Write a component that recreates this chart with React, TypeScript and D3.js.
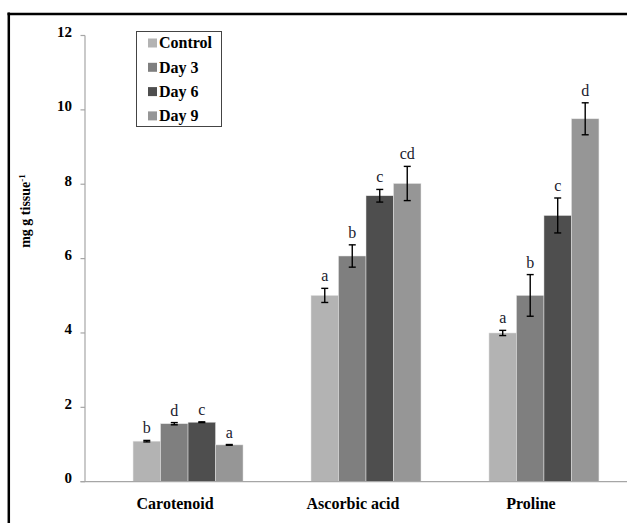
import React from "react";
import * as d3 from "d3";

const categories = ["Carotenoid", "Ascorbic acid", "Proline"];
const seriesNames = ["Control", "Day 3", "Day 6", "Day 9"];
const seriesColors = ["#b3b3b3", "#7f7f7f", "#4e4e4e", "#969696"];
const control = [1.09, 5.01, 4.0];
const day3 = [1.56, 6.07, 5.01];
const day6 = [1.6, 7.69, 7.16];
const day9 = [0.99, 8.02, 9.76];
const controlErr = [0.02, 0.19, 0.07];
const day3Err = [0.03, 0.3, 0.56];
const day6Err = [0.01, 0.17, 0.47];
const day9Err = [0.01, 0.46, 0.43];
const controlLbl = ["b", "a", "a"];
const day3Lbl = ["d", "b", "b"];
const day6Lbl = ["c", "c", "c"];
const day9Lbl = ["a", "cd", "d"];
const yTicks = [0, 2, 4, 6, 8, 10, 12];

const values = [control, day3, day6, day9];
const errs = [controlErr, day3Err, day6Err, day9Err];
const lbls = [controlLbl, day3Lbl, day6Lbl, day9Lbl];

const FONT = "'Liberation Serif', 'Times New Roman', serif";

export default function App() {
  const axisX = 85;
  const y = d3.scaleLinear().domain([0, 12]).range([481.7, 35.5]);
  const x0 = d3
    .scaleBand<string>()
    .domain(categories)
    .range([axisX, 647])
    .paddingInner(0.382)
    .paddingOuter(0.27);
  const x1 = d3
    .scaleBand<string>()
    .domain(seriesNames)
    .range([0, x0.bandwidth()])
    .padding(0);

  return (
    <svg
      width={627}
      height={523}
      style={{ position: "absolute", left: 0, top: 0, background: "#fff" }}
      fontFamily={FONT}
    >
      {/* outer border */}
      <line x1={8.8} y1={12.5} x2={8.8} y2={523} stroke="#000" strokeWidth={2.5} />
      <line x1={7.5} y1={14} x2={627} y2={14} stroke="#000" strokeWidth={2.5} />

      {/* bars */}
      {categories.map((c, ci) => (
        <g key={c} transform={`translate(${x0(c)},0)`}>
          {seriesNames.map((s, si) => {
            const v = values[si][ci];
            const e = errs[si][ci];
            const bx = x1(s)!;
            const bw = x1.bandwidth();
            const cx = bx + bw / 2;
            return (
              <g key={s}>
                <rect
                  x={bx}
                  y={y(v)}
                  width={bw}
                  height={y(0) - y(v)}
                  fill={seriesColors[si]}
                  stroke="#e6e6e6"
                  strokeWidth={0.5}
                />
                <line x1={cx} x2={cx} y1={y(v + e)} y2={y(v - e)} stroke="#000" strokeWidth={1.4} />
                <line x1={cx - 3.5} x2={cx + 3.5} y1={y(v + e)} y2={y(v + e)} stroke="#000" strokeWidth={1.4} />
                <line x1={cx - 3.5} x2={cx + 3.5} y1={y(v - e)} y2={y(v - e)} stroke="#000" strokeWidth={1.4} />
                <text
                  x={cx}
                  y={y(v + e) - 7}
                  textAnchor="middle"
                  fontSize={16}
                  fill="#1a1a2e"
                >
                  {lbls[si][ci]}
                </text>
              </g>
            );
          })}
        </g>
      ))}

      {/* y axis */}
      <line x1={axisX} x2={axisX} y1={y(12)} y2={y(0)} stroke="#a6a6a6" strokeWidth={1.2} />
      {yTicks.map((t) => (
        <g key={t}>
          <line x1={axisX - 4.5} x2={axisX} y1={y(t)} y2={y(t)} stroke="#a6a6a6" strokeWidth={1.2} />
          <text
            x={72}
            y={y(t)}
            dy="0.1em"
            textAnchor="end"
            fontSize={15}
            fontWeight="bold"
            fill="#000"
          >
            {t}
          </text>
        </g>
      ))}
      {/* x axis */}
      <line x1={axisX - 4.5} x2={627} y1={y(0)} y2={y(0)} stroke="#a6a6a6" strokeWidth={1.2} />

      {/* category labels */}
      {categories.map((c) => (
        <text
          key={c}
          x={x0(c)! + x0.bandwidth() / 2 - 13}
          y={509}
          textAnchor="middle"
          fontSize={16}
          fontWeight="bold"
          fill="#000"
        >
          {c}
        </text>
      ))}

      {/* y title */}
      <text
        transform={`translate(30,211) rotate(-90)`}
        textAnchor="middle"
        fontSize={14}
        fontWeight="bold"
        fill="#000"
      >
        mg g tissue
        <tspan dy={-5} fontSize={9}>-1</tspan>
      </text>

      {/* legend */}
      <rect x={136.5} y={31.5} width={85} height={95} fill="#fff" stroke="#444" strokeWidth={1} />
      {seriesNames.map((s, i) => (
        <g key={s} transform={`translate(148,${43 + i * 24.3})`}>
          <rect x={0} y={-4.5} width={9} height={9} fill={seriesColors[i]} />
          <text x={11} y={0} dy="0.33em" fontSize={16} fontWeight="bold" fill="#000">
            {s}
          </text>
        </g>
      ))}
    </svg>
  );
}
